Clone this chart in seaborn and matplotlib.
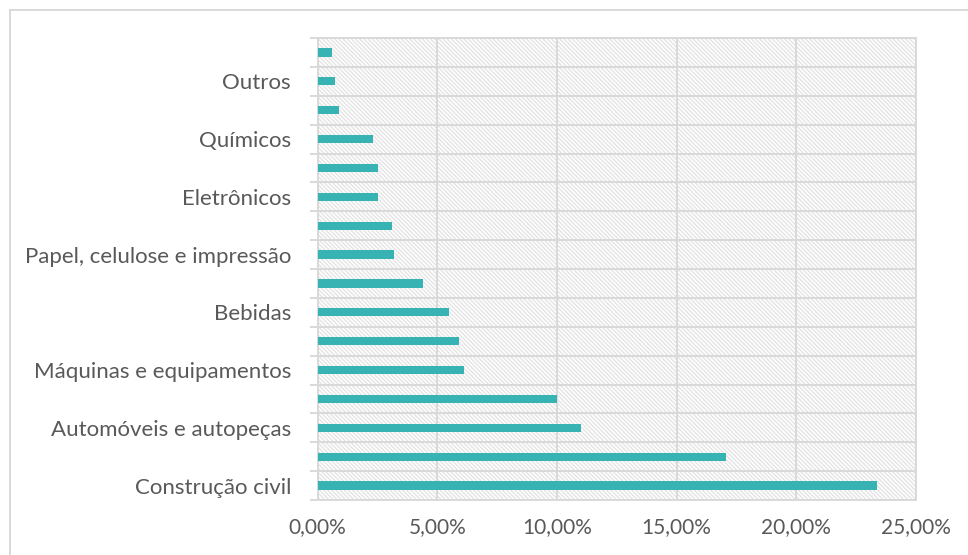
import matplotlib
matplotlib.use("Agg")
import matplotlib.pyplot as plt
import seaborn as sns
import pandas as pd
from matplotlib.ticker import FuncFormatter, FixedLocator
from matplotlib.lines import Line2D

# ---- data (top to bottom) ----
categories = [
    "Setor 16", "Outros", "Setor 14", "Químicos", "Setor 12", "Eletrônicos",
    "Setor 10", "Papel, celulose e impressão", "Setor 8", "Bebidas",
    "Setor 6", "Máquinas e equipamentos", "Setor 4", "Automóveis e autopeças",
    "Setor 2", "Construção civil",
]
display_labels = [
    "", "Outros", "", "Químicos", "", "Eletrônicos",
    "", "Papel, celulose e impressão", "", "Bebidas",
    "", "Máquinas e equipamentos", "", "Automóveis e autopeças",
    "", "Construção civil",
]
values = [0.61, 0.72, 0.90, 2.30, 2.51, 2.51, 3.11, 3.21, 4.40, 5.50,
          5.91, 6.10, 10.00, 10.99, 17.07, 23.38]
x_ticks = [0, 5, 10, 15, 20, 25]

BAR = "#36B3B2"
GRID = "#D9D9D9"
TEXT = "#595959"
HATCH = "#E4E4E4"

plt.rcParams["font.family"] = ["Lato", "DejaVu Sans"]
plt.rcParams["hatch.color"] = HATCH
plt.rcParams["hatch.linewidth"] = 1.0

df = pd.DataFrame({"categoria": categories, "valor": values})

fig = plt.figure(figsize=(9.68, 5.55), dpi=100)
W, H = 968, 555
ax = fig.add_axes([317.5 / W, (H - 500) / H, (916 - 317.5) / W, (500 - 38) / H])

# hatched background
ax.patch.set_facecolor("white")
ax.patch.set_hatch("\\" * 8)
ax.patch.set_edgecolor(HATCH)
ax.patch.set_linewidth(0)

sns.barplot(data=df, y="categoria", x="valor", order=categories, color=BAR,
            width=0.29, saturation=1, ax=ax, zorder=3)

ax.set_xlim(0, 25)
ax.set_ylim(len(categories) - 0.5, -0.5)
ax.set_xlabel("")
ax.set_ylabel("")

ax.xaxis.set_major_locator(FixedLocator(x_ticks))
ax.xaxis.set_major_formatter(FuncFormatter(lambda v, p: f"{v:.2f}%".replace(".", ",")))
ax.set_yticks(range(len(categories)))
ax.set_yticklabels(display_labels)
ax.yaxis.set_minor_locator(FixedLocator([i - 0.5 for i in range(len(categories) + 1)]))

ax.set_axisbelow(True)
ax.grid(axis="x", which="major", color=GRID, linewidth=1.4, zorder=1)
ax.grid(axis="y", which="minor", color=GRID, linewidth=1.4, zorder=1)
ax.grid(axis="y", which="major", visible=False)

for s in ax.spines.values():
    s.set_color(GRID)
    s.set_linewidth(1.4)

ax.tick_params(axis="x", which="both", length=0, pad=12, labelsize=15, labelcolor=TEXT)
ax.tick_params(axis="y", which="major", length=0, pad=19, labelsize=16, labelcolor=TEXT)
ax.tick_params(axis="y", which="minor", length=6, width=1.4, color=GRID)

# outer chart border (top and left visible)
fig.add_artist(Line2D([9.5 / W, 1.0], [1 - 9.5 / H, 1 - 9.5 / H], color=GRID, linewidth=1.4,
                      transform=fig.transFigure))
fig.add_artist(Line2D([9.5 / W, 9.5 / W], [0.0, 1 - 9.5 / H], color=GRID, linewidth=1.4,
                      transform=fig.transFigure))

fig.savefig("out.png", dpi=100)
